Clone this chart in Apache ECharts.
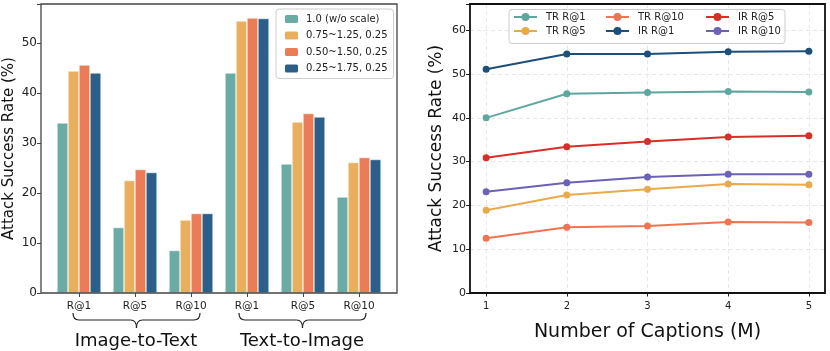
<!DOCTYPE html>
<html>
<head>
<meta charset="UTF-8">
<title>Attack Success Rate</title>
<script src="https://cdn.jsdelivr.net/npm/echarts@6/dist/echarts.min.js"></script>
<style>
  html, body { margin: 0; padding: 0; background: #fff; }
  #chart { width: 830px; height: 351px; }
</style>
</head>
<body>
<div id="chart"></div>
<script>
// left panel: scale ranges
var barCats = ['R@1', 'R@5', 'R@10', 'R@1', 'R@5', 'R@10'];
var scaleNames = ['1.0 (w/o scale)', '0.75~1.25, 0.25', '0.50~1.50, 0.25', '0.25~1.75, 0.25'];
var scale10 = [34.0, 13.1, 8.5, 44.0, 25.8, 19.2];
var scale075 = [44.4, 22.5, 14.6, 54.4, 34.2, 26.1];
var scale050 = [45.6, 24.7, 15.9, 55.0, 35.9, 27.1];
var scale025 = [44.0, 24.1, 15.9, 54.9, 35.2, 26.7];
var barColors = ['#6aaca5', '#e8b05e', '#ec7c57', '#2c5f87'];

// right panel: number of captions
var numCaptions = [1, 2, 3, 4, 5];
var lineNames = ['TR R@1', 'TR R@5', 'TR R@10', 'IR R@1', 'IR R@5', 'IR R@10'];
var trR1 = [40.0, 45.5, 45.8, 46.0, 45.9];
var trR5 = [18.9, 22.4, 23.7, 24.9, 24.7];
var trR10 = [12.5, 15.0, 15.3, 16.2, 16.1];
var irR1 = [51.1, 54.6, 54.6, 55.1, 55.2];
var irR5 = [30.9, 33.4, 34.6, 35.6, 35.9];
var irR10 = [23.1, 25.2, 26.5, 27.1, 27.1];
var lineColors = ['#5ea79f', '#e9aa4b', '#ef7452', '#1c4f79', '#d82e29', '#6b61b6'];

var FONT = 'DejaVu Sans';

var barData = [scale10, scale075, scale050, scale025];
var lineData = [trR1, trR5, trR10, irR1, irR5, irR10];

var series = [];
barData.forEach(function (vals, i) {
    series.push({
        name: scaleNames[i],
        type: 'bar',
        xAxisIndex: 0, yAxisIndex: 0,
        data: vals,
        barWidth: 11,
        barGap: '0%',
        itemStyle: { color: barColors[i], borderColor: '#fff', borderWidth: 0.5 }
    });
});
lineData.forEach(function (vals, i) {
    series.push({
        name: lineNames[i],
        type: 'line',
        xAxisIndex: 1, yAxisIndex: 1,
        data: vals.map(function (v, j) { return [numCaptions[j], v]; }),
        symbol: 'circle',
        symbolSize: 7,
        lineStyle: { width: 2, color: lineColors[i] },
        itemStyle: { color: lineColors[i] },
        z: 3
    });
});

// curly brace under a group of ticks, built from lines and quadratic curves
function brace(x1, x2, y) {
    var xm = (x1 + x2) / 2, h = 7, r = 6;
    var st = { stroke: '#222', lineWidth: 1.2, fill: null };
    var yh = y + h;
    return [
        { type: 'bezierCurve', shape: { x1: x1, y1: y, cpx1: x1, cpy1: yh, x2: x1 + r, y2: yh }, style: st },
        { type: 'line', shape: { x1: x1 + r, y1: yh, x2: xm - r, y2: yh }, style: st },
        { type: 'bezierCurve', shape: { x1: xm - r, y1: yh, cpx1: xm, cpy1: yh, x2: xm, y2: yh + 8 }, style: st },
        { type: 'bezierCurve', shape: { x1: xm, y1: yh + 8, cpx1: xm, cpy1: yh, x2: xm + r, y2: yh }, style: st },
        { type: 'line', shape: { x1: xm + r, y1: yh, x2: x2 - r, y2: yh }, style: st },
        { type: 'bezierCurve', shape: { x1: x2 - r, y1: yh, cpx1: x2, cpy1: yh, x2: x2, y2: y }, style: st }
    ];
}

var graphics = [
    // axes frames
    { type: 'rect', z: 10, silent: true, shape: { x: 41, y: 4, width: 356, height: 289 },
      style: { fill: 'none', stroke: '#444', lineWidth: 1.3 } },
    { type: 'rect', z: 10, silent: true, shape: { x: 470, y: 4, width: 355, height: 289 },
      style: { fill: 'none', stroke: '#111', lineWidth: 1.8 } },
    // legend box of the right panel
    { type: 'rect', z: 3, shape: { x: 509, y: 9.5, width: 276, height: 34, r: 3 },
      style: { fill: '#fff', stroke: '#ccc', lineWidth: 1 } },
    { type: 'text', x: 136, y: 341, style: { text: 'Image-to-Text', font: '18px "DejaVu Sans"', fill: '#111', textAlign: 'center', textVerticalAlign: 'middle' } },
    { type: 'text', x: 302, y: 341, style: { text: 'Text-to-Image', font: '18px "DejaVu Sans"', fill: '#111', textAlign: 'center', textVerticalAlign: 'middle' } }
].concat(brace(73, 200, 313), brace(239, 366, 313));

function colLegend(names, left) {
    return {
        data: names, orient: 'vertical', left: left, top: 12, padding: 0,
        itemWidth: 23, itemHeight: 10, itemGap: 4,
        textStyle: { fontSize: 10, color: '#222', fontFamily: FONT, padding: [0, 0, 0, 4] }
    };
}

var option = {
    animation: false,
    textStyle: { fontFamily: FONT },
    grid: [
        { left: 51, top: 4, width: 336, height: 289 },
        { left: 470, top: 4, width: 355, height: 289 }
    ],
    xAxis: [
        {
            gridIndex: 0, type: 'category', data: barCats,
            axisLine: { show: false },
            axisTick: { show: true, alignWithLabel: true, length: 4, lineStyle: { color: '#444' } },
            axisLabel: { color: '#222', fontSize: 10.5, margin: 8, fontFamily: FONT }
        },
        {
            gridIndex: 1, type: 'value', min: 0.8, max: 5.2,
            axisLine: { show: false },
            axisTick: { show: true, length: 3.5, customValues: numCaptions, lineStyle: { color: '#222' } },
            axisLabel: { color: '#222', fontSize: 10, margin: 8, customValues: numCaptions, fontFamily: FONT },
            splitLine: { show: true, lineStyle: { color: '#e2e2e2', type: [4, 3], width: 0.8 } },
            name: 'Number of Captions (M)', nameLocation: 'middle', nameGap: 30,
            nameTextStyle: { fontSize: 19, color: '#111', fontFamily: FONT }
        }
    ],
    yAxis: [
        {
            gridIndex: 0, type: 'value', min: 0, max: 57.8, interval: 10, offset: 10,
            axisLine: { show: false },
            axisTick: { show: true, length: 4, lineStyle: { color: '#444' } },
            axisLabel: { color: '#222', fontSize: 12, margin: 4, fontFamily: FONT,
                formatter: function (v) { return v % 10 === 0 ? v : ''; } },
            splitLine: { show: false },
            name: 'Attack Success Rate (%)', nameLocation: 'middle', nameGap: 24,
            nameTextStyle: { fontSize: 15, color: '#111', fontFamily: FONT }
        },
        {
            gridIndex: 1, type: 'value', min: 0, max: 66, interval: 10,
            axisLine: { show: false },
            axisTick: { show: true, length: 4, lineStyle: { color: '#222' } },
            axisLabel: { color: '#222', fontSize: 11, margin: 4, fontFamily: FONT,
                formatter: function (v) { return v % 10 === 0 ? v : ''; } },
            splitLine: { show: true, lineStyle: { color: '#e2e2e2', type: [4, 3], width: 0.8 } },
            name: 'Attack Success Rate (%)', nameLocation: 'middle', nameGap: 25,
            nameTextStyle: { fontSize: 17, color: '#111', fontFamily: FONT }
        }
    ],
    legend: [
        {
            data: scaleNames, orient: 'vertical', left: 276, top: 9,
            itemWidth: 15, itemHeight: 10, itemGap: 4.5,
            padding: [4, 6, 4, 7],
            borderColor: '#ccc', borderWidth: 1, borderRadius: 3, backgroundColor: '#fff',
            textStyle: { fontSize: 10, color: '#222', fontFamily: FONT, padding: [0, 0, 0, 2] }
        },
        colLegend(lineNames.slice(0, 2), 513),
        colLegend(lineNames.slice(2, 4), 605),
        colLegend(lineNames.slice(4, 6), 705)
    ],
    graphic: graphics,
    series: series
};

var chart = echarts.init(document.getElementById('chart'));
chart.setOption(option);
</script>
</body>
</html>
